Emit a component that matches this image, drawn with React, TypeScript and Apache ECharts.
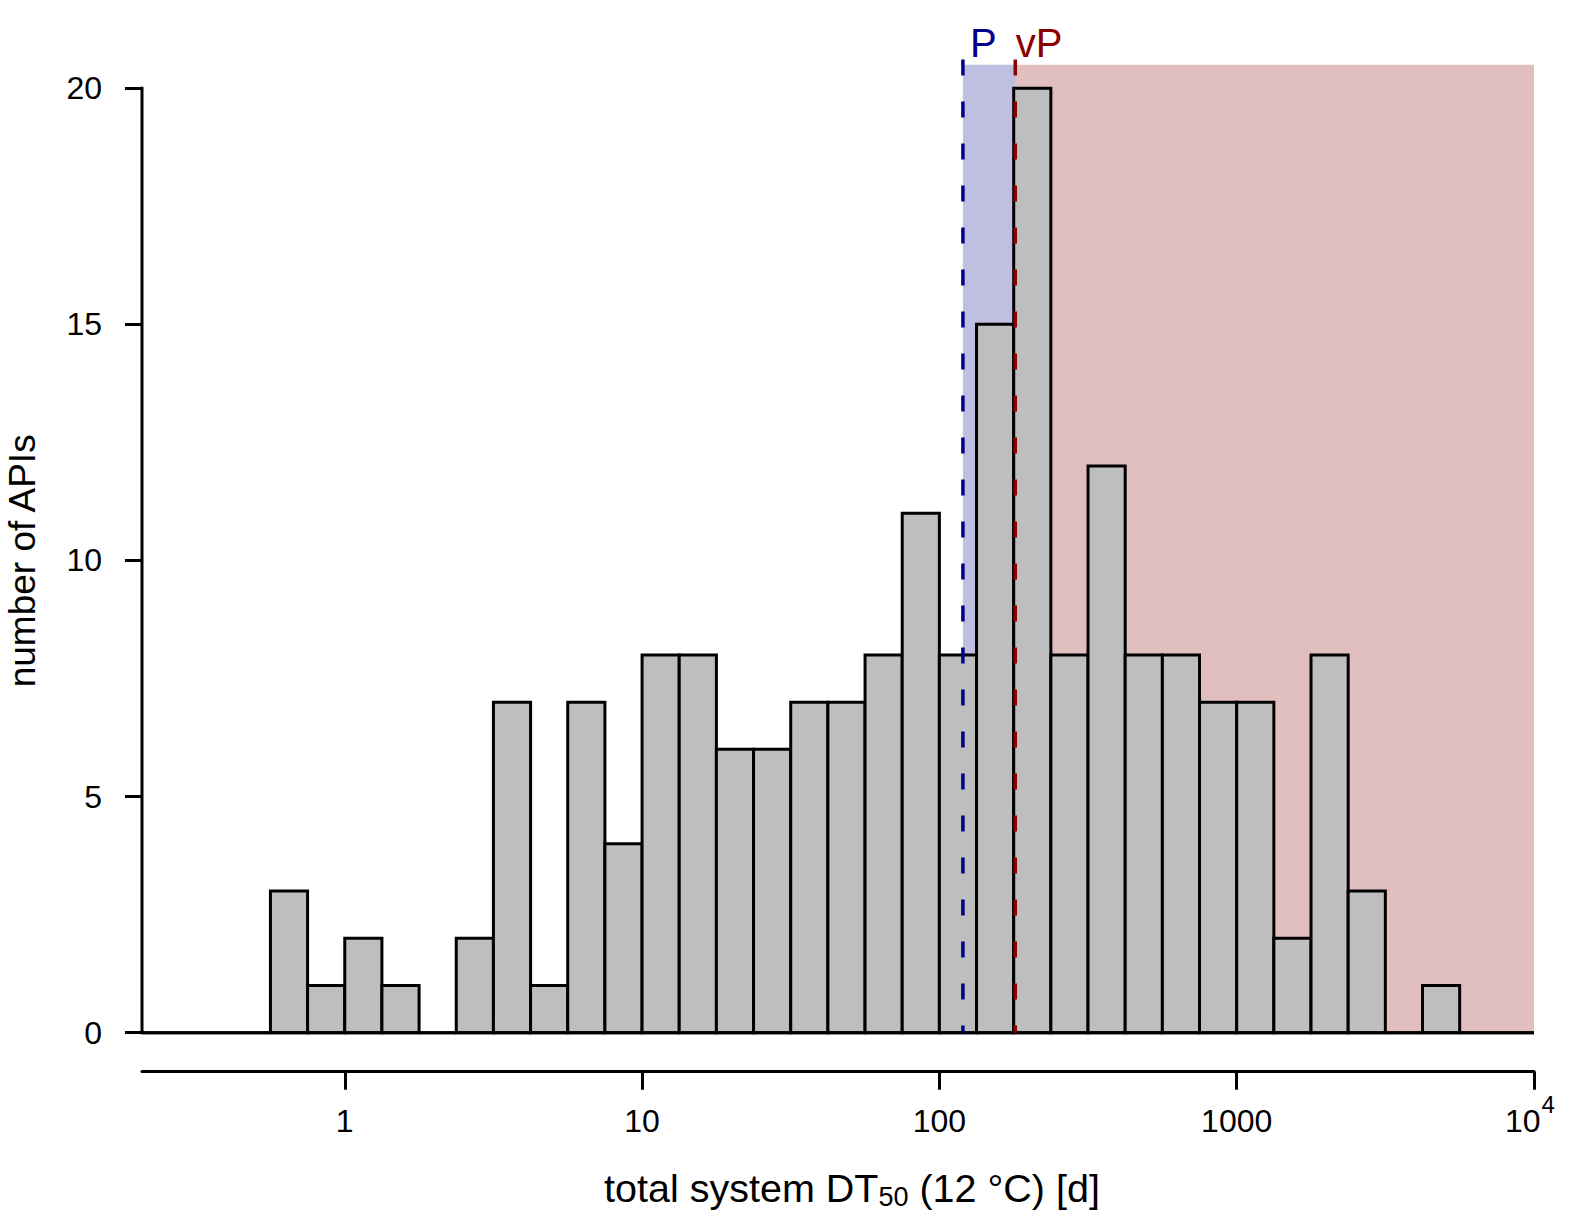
import React, { useEffect, useRef } from "react";
import * as echarts from "echarts";

const FONT = "'Liberation Sans', Arial, Helvetica, sans-serif";

// Histogram of log10(DT50 [d]), bins of 1/8 decade
const BIN_START_LOG10 = -0.75;
const BIN_WIDTH_LOG10 = 0.125;
const BIN_COUNTS = [
  0, 0, 0, 0, 3, 1, 2, 1, 0, 2, 7, 1, 7, 4, 8, 8, 6, 6, 7, 7, 8, 11, 8, 15, 20,
  8, 12, 8, 8, 7, 7, 2, 8, 3, 0, 1, 0, 0,
];

const X_TICKS_LOG10 = [0, 1, 2, 3, 4];
const X_TICK_LABELS = ["1", "10", "100", "1000", "10^4"];
const Y_TICKS = [0, 5, 10, 15, 20];

const X_MIN_LOG10 = -0.682;
const X_MAX_LOG10 = 4;
const Y_MIN = -0.826;
const Y_MAX = 20.81;
const Y_AXIS_TOP = 20;

const THRESHOLD_NAMES = ["P", "vP"];
const THRESHOLD_DAYS = [120, 180];
const THRESHOLD_COLORS = ["#00008B", "#8B0000"];
const THRESHOLD_LABEL_DX = [7, 0.5];
const SHADE_RANGES_DAYS = [
  [120, 180],
  [180, 10000],
];
const SHADE_COLORS = ["rgba(0,0,139,0.25)", "rgba(139,0,0,0.25)"];
const SHADE_TOP = 20.5;
const LINE_TOP = 20.61;

export default function App() {
  const ref = useRef<HTMLDivElement>(null);

  useEffect(() => {
    if (!ref.current) return;
    const chart = echarts.init(ref.current, undefined, { renderer: "svg" });

    const barData = BIN_COUNTS.map((c, i) => [
      BIN_START_LOG10 + i * BIN_WIDTH_LOG10,
      BIN_START_LOG10 + (i + 1) * BIN_WIDTH_LOG10,
      c,
    ]);
    const shadeData = SHADE_RANGES_DAYS.map((r, i) => [
      Math.log10(r[0]),
      Math.log10(r[1]),
      i,
    ]);
    const thrData = THRESHOLD_DAYS.map((d, i) => [Math.log10(d), i]);

    const option: any = {
      animation: false,
      backgroundColor: "#ffffff",
      textStyle: { fontFamily: FONT },
      grid: {
        left: 142,
        right: 56,
        top: 50,
        bottom: 148.3,
        containLabel: false,
        outerBoundsMode: "none",
      },
      xAxis: {
        type: "value",
        min: X_MIN_LOG10,
        max: X_MAX_LOG10,
        name: "total system DT{sub|50} (12 °C) [d]",
        nameLocation: "middle",
        nameGap: 96.5,
        nameTextStyle: {
          fontSize: 39.5,
          lineHeight: 39.5,
          color: "#000",
          fontFamily: FONT,
          padding: [0, 0, 0, 28],
          rich: {
            sub: {
              fontSize: 27,
              lineHeight: 27,
              color: "#000",
              fontFamily: FONT,
              padding: [15.5, 0, 0, 0],
              verticalAlign: "top",
            },
          },
        },
        axisLine: {
          show: true,
          onZero: false,
          lineStyle: { color: "#000", width: 3 },
        },
        axisTick: {
          show: true,
          customValues: X_TICKS_LOG10,
          length: 18,
          lineStyle: { color: "#000", width: 3 },
        },
        axisLabel: {
          customValues: X_TICKS_LOG10,
          margin: 21,
          color: "#000",
          fontFamily: FONT,
          formatter: (v: number) => {
            const idx = X_TICKS_LOG10.findIndex((t) => Math.abs(t - v) < 1e-9);
            const lab = idx >= 0 ? X_TICK_LABELS[idx] : "";
            if (lab.indexOf("^") >= 0) {
              const [b, e] = lab.split("^");
              return "{b|" + b + "}{sup|" + e + "}";
            }
            return "{n|" + lab + "}";
          },
          rich: {
            n: {
              fontSize: 32,
              fontFamily: FONT,
              color: "#000",
              padding: [12, 0, 0, 0],
            },
            b: {
              fontSize: 32,
              fontFamily: FONT,
              color: "#000",
              verticalAlign: "bottom",
            },
            sup: {
              fontSize: 24,
              fontFamily: FONT,
              color: "#000",
              padding: [0, 8, 20, 1],
              verticalAlign: "top",
            },
          },
        },
        splitLine: { show: false },
      },
      yAxis: {
        type: "value",
        min: Y_MIN,
        max: Y_MAX,
        name: "number of APIs",
        nameLocation: "middle",
        nameRotate: 90,
        nameGap: 101,
        nameTextStyle: {
          fontSize: 37,
          lineHeight: 37,
          color: "#000",
          fontFamily: FONT,
        },
        axisLine: { show: false, onZero: false },
        axisTick: {
          show: true,
          customValues: Y_TICKS,
          length: 17,
          lineStyle: { color: "#000", width: 3 },
        },
        axisLabel: {
          customValues: Y_TICKS,
          margin: 40,
          fontSize: 32,
          color: "#000",
          fontFamily: FONT,
        },
        splitLine: { show: false },
      },
      series: [
        {
          type: "custom",
          name: "shading",
          silent: true,
          z: 1,
          data: shadeData,
          renderItem: (params: any, api: any) => {
            const p0 = api.coord([api.value(0), SHADE_TOP]);
            const p1 = api.coord([api.value(1), 0]);
            return {
              type: "rect",
              shape: {
                x: p0[0],
                y: p0[1],
                width: p1[0] - p0[0],
                height: p1[1] - p0[1],
              },
              style: { fill: SHADE_COLORS[api.value(2)] },
            };
          },
        },
        {
          type: "custom",
          name: "histogram",
          silent: true,
          clip: true,
          z: 2,
          data: barData,
          renderItem: (params: any, api: any) => {
            const p0 = api.coord([api.value(0), api.value(2)]);
            const p1 = api.coord([api.value(1), 0]);
            return {
              type: "rect",
              shape: {
                x: p0[0],
                y: p0[1],
                width: p1[0] - p0[0],
                height: p1[1] - p0[1],
              },
              style: { fill: "#BEBEBE", stroke: "#000", lineWidth: 3 },
            };
          },
        },
        {
          type: "custom",
          name: "axes",
          silent: true,
          z: 3,
          data: [[X_MIN_LOG10, 0, X_MAX_LOG10, Y_AXIS_TOP]],
          renderItem: (params: any, api: any) => {
            const a0 = api.coord([api.value(0), api.value(1)]);
            const a1 = api.coord([api.value(0), api.value(3)]);
            const b1 = api.coord([api.value(2), api.value(1)]);
            return {
              type: "group",
              children: [
                {
                  type: "line",
                  shape: { x1: a0[0] - 1.5, y1: a0[1], x2: b1[0], y2: b1[1] },
                  style: { stroke: "#000", lineWidth: 3 },
                },
                {
                  type: "line",
                  shape: { x1: a0[0], y1: a0[1], x2: a1[0], y2: a1[1] - 1.5 },
                  style: { stroke: "#000", lineWidth: 3 },
                },
              ],
            };
          },
        },
        {
          type: "custom",
          name: "thresholds",
          silent: true,
          z: 4,
          data: thrData,
          renderItem: (params: any, api: any) => {
            const i = api.value(1);
            const top = api.coord([api.value(0), LINE_TOP]);
            const bot = api.coord([api.value(0), 0]);
            return {
              type: "group",
              children: [
                {
                  type: "line",
                  shape: { x1: top[0], y1: top[1], x2: bot[0], y2: bot[1] },
                  style: {
                    stroke: THRESHOLD_COLORS[i],
                    lineWidth: 3.5,
                    lineDash: [16, 26],
                  },
                },
                {
                  type: "text",
                  style: {
                    text: THRESHOLD_NAMES[i],
                    x: top[0] + THRESHOLD_LABEL_DX[i],
                    y: top[1] + 3.5,
                    fill: THRESHOLD_COLORS[i],
                    fontSize: 40,
                    fontFamily: FONT,
                    textAlign: "left",
                    textVerticalAlign: "bottom",
                  },
                },
              ],
            };
          },
        },
      ],
    };

    chart.setOption(option);
    return () => chart.dispose();
  }, []);

  return (
    <div
      ref={ref}
      style={{
        position: "fixed",
        left: 0,
        top: 0,
        width: 1590,
        height: 1220,
        background: "#fff",
      }}
    />
  );
}
